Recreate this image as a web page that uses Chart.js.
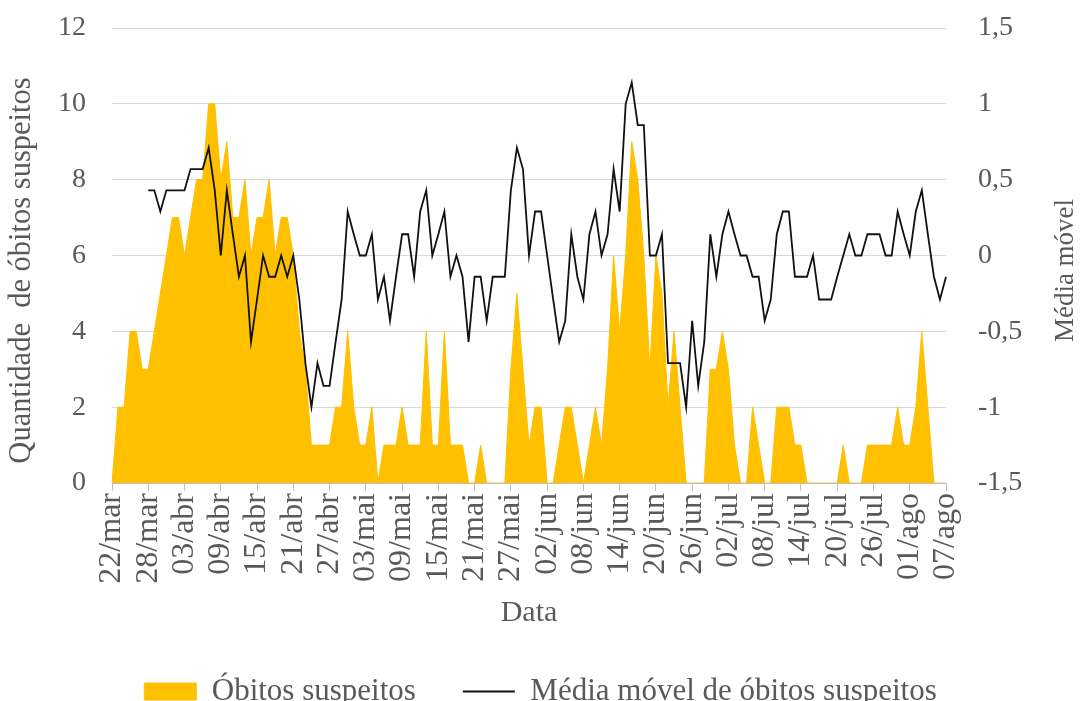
<!DOCTYPE html>
<html lang="pt-BR">
<head>
<meta charset="utf-8">
<title>Óbitos suspeitos</title>
<script src="https://cdn.jsdelivr.net/npm/chart.js@4/dist/chart.umd.min.js"></script>
<style>
  body { margin: 0; background: #fff; overflow: hidden; }
  #grafico { display: block; }
</style>
</head>
<body>
<canvas id="grafico" width="1081" height="701"></canvas>
<script>
//Dados do gráfico
const meses = ["mar", "abr", "mai", "jun", "jul", "ago"]; //Meses do período
const diasNoMes = [31, 30, 31, 30, 31, 31];
const primeiroDia = 22; //22/mar
const totalDias = 139; //22/mar até 07/ago

//Óbitos suspeitos por dia
const obitos = [
  0, 2, 2, 4, 4, 3, 3, 4, 5, 6,
  7, 7, 6, 7, 8, 8, 10, 10, 8, 9,
  7, 7, 8, 6, 7, 7, 8, 6, 7, 7,
  6, 4, 3, 1, 1, 1, 1, 2, 2, 4,
  2, 1, 1, 2, 0, 1, 1, 1, 2, 1,
  1, 1, 4, 1, 1, 4, 1, 1, 1, 0,
  0, 1, 0, 0, 0, 0, 3, 5, 3, 1,
  2, 2, 0, 0, 1, 2, 2, 1, 0, 1,
  2, 1, 3, 6, 4, 6, 9, 8, 6, 3,
  6, 5, 2, 4, 2, 0, 0, 0, 0, 3,
  3, 4, 3, 1, 0, 0, 2, 1, 0, 0,
  2, 2, 2, 1, 1, 0, 0, 0, 0, 0,
  0, 1, 0, 0, 0, 1, 1, 1, 1, 1,
  2, 1, 1, 2, 4, 2, 0, 0, 0,
];

//Média móvel de óbitos suspeitos (começa em 28/mar)
const mediaMovel = [
  null, null, null, null, null, null, 0.43, 0.43, 0.29, 0.43,
  0.43, 0.43, 0.43, 0.57, 0.57, 0.57, 0.71, 0.43, 0, 0.43,
  0.14, -0.14, 0, -0.57, -0.29, 0, -0.14, -0.14, 0, -0.14,
  0, -0.29, -0.71, -1, -0.71, -0.86, -0.86, -0.57, -0.29, 0.29,
  0.14, 0, 0, 0.14, -0.29, -0.14, -0.43, -0.14, 0.14, 0.14,
  -0.14, 0.29, 0.43, 0, 0.14, 0.29, -0.14, 0, -0.14, -0.57,
  -0.14, -0.14, -0.43, -0.14, -0.14, -0.14, 0.43, 0.71, 0.57, 0,
  0.29, 0.29, 0, -0.29, -0.57, -0.43, 0.14, -0.14, -0.29, 0.14,
  0.29, 0, 0.14, 0.57, 0.29, 1, 1.14, 0.86, 0.86, 0,
  0, 0.14, -0.71, -0.71, -0.71, -1, -0.43, -0.86, -0.57, 0.14,
  -0.14, 0.14, 0.29, 0.14, 0, 0, -0.14, -0.14, -0.43, -0.29,
  0.14, 0.29, 0.29, -0.14, -0.14, -0.14, 0, -0.29, -0.29, -0.29,
  -0.14, 0, 0.14, 0, 0, 0.14, 0.14, 0.14, 0, 0,
  0.29, 0.14, 0, 0.29, 0.43, 0.14, -0.14, -0.29, -0.14,
];

const ticksEsquerdo = { min: 0, max: 12, passo: 2 };
const ticksDireito = { min: -1.5, max: 1.5, passo: 0.5 };
const intervaloRotulo = 6; //Um rótulo a cada 6 dias

//Monta as datas dd/mmm
const datas = [];
let dia = primeiroDia;
let m = 0;
for (let i = 0; i < totalDias; i++) {
  datas.push(String(dia).padStart(2, "0") + "/" + meses[m]);
  dia++;
  if (dia > diasNoMes[m]) {
    dia = 1;
    m++;
  }
}

const corTexto = "#595959";
const fonte = "'Liberation Serif', 'Times New Roman', serif";
const invisivel = "rgba(0,0,0,0)";

//Títulos dos eixos verticais, os dois lidos de baixo para cima
const titulosVerticais = {
  id: "titulosVerticais",
  afterDraw(chart) {
    const ctx = chart.ctx;
    const meio = (chart.chartArea.top + chart.chartArea.bottom) / 2 + 15;
    const escrever = (texto, x, tamanho) => {
      ctx.save();
      ctx.translate(x, meio);
      ctx.rotate(-Math.PI / 2);
      ctx.font = tamanho + "px " + fonte;
      ctx.fillStyle = corTexto;
      ctx.textAlign = "center";
      ctx.textBaseline = "middle";
      ctx.fillText(texto, 0, 0);
      ctx.restore();
    };
    escrever("Quantidade  de óbitos suspeitos", 22, 30.5);
    escrever("Média móvel", 1066, 27);
  },
};

const ctx = document.getElementById("grafico").getContext("2d");
const grafico = new Chart(ctx, {
  type: "line",
  data: {
    labels: datas,
    datasets: [
      {
        label: "Óbitos suspeitos",
        data: obitos,
        yAxisID: "y",
        fill: "origin",
        backgroundColor: "#FFC000",
        borderColor: "#FFC000",
        borderWidth: 1,
        pointRadius: 0,
        pointStyle: "rect",
        tension: 0,
        order: 2,
      },
      {
        label: "Média móvel de óbitos suspeitos",
        data: mediaMovel,
        yAxisID: "y1",
        fill: false,
        borderColor: "#111111",
        backgroundColor: "#111111",
        borderWidth: 1.8,
        pointRadius: 0,
        pointStyle: "line",
        tension: 0,
        order: 1,
      },
    ],
  },
  options: {
    responsive: false,
    animation: false,
    devicePixelRatio: 1,
    layout: { padding: { top: 28, right: 0, bottom: -16, left: 0 } },
    plugins: {
      tooltip: { enabled: false },
      legend: {
        position: "bottom",
        labels: {
          usePointStyle: true,
          pointStyleWidth: 52,
          boxHeight: 17,
          padding: 47,
          color: corTexto,
          font: { family: fonte, size: 31 },
          sort: (a, b) => a.datasetIndex - b.datasetIndex,
        },
      },
    },
    scales: {
      x: {
        afterFit: (escala) => {
          escala.height = 146;
        },
        grid: {
          drawOnChartArea: false,
          drawTicks: true,
          tickLength: 8,
          color: (c) => (c.index % intervaloRotulo === 0 ? "#bfbfbf" : invisivel),
        },
        border: { display: true, color: "#bfbfbf" },
        ticks: {
          autoSkip: false,
          minRotation: 90,
          maxRotation: 90,
          padding: 2,
          color: corTexto,
          font: { family: fonte, size: 32 },
          callback: function (valor, indice) {
            return indice % intervaloRotulo === 0 ? this.getLabelForValue(valor) : "";
          },
        },
        title: {
          display: true,
          text: "Data",
          color: corTexto,
          font: { family: fonte, size: 30 },
          padding: { top: 0, bottom: -2 },
        },
      },
      y: {
        position: "left",
        min: ticksEsquerdo.min,
        max: ticksEsquerdo.max,
        afterFit: (escala) => {
          escala.width = 112;
        },
        grid: { color: "#d9d9d9", drawTicks: true, tickLength: 18, tickColor: invisivel },
        border: { display: false },
        ticks: {
          stepSize: ticksEsquerdo.passo,
          padding: 8,
          color: corTexto,
          font: { family: fonte, size: 28 },
        },
      },
      y1: {
        position: "right",
        min: ticksDireito.min,
        max: ticksDireito.max,
        afterFit: (escala) => {
          escala.width = 135;
        },
        grid: { display: false, drawTicks: true, tickLength: 24 },
        border: { display: false },
        ticks: {
          stepSize: ticksDireito.passo,
          padding: 8,
          color: corTexto,
          font: { family: fonte, size: 28 },
          callback: (v) => String(v).replace(".", ","),
        },
      },
    },
  },
  plugins: [titulosVerticais],
});
</script>
</body>
</html>
